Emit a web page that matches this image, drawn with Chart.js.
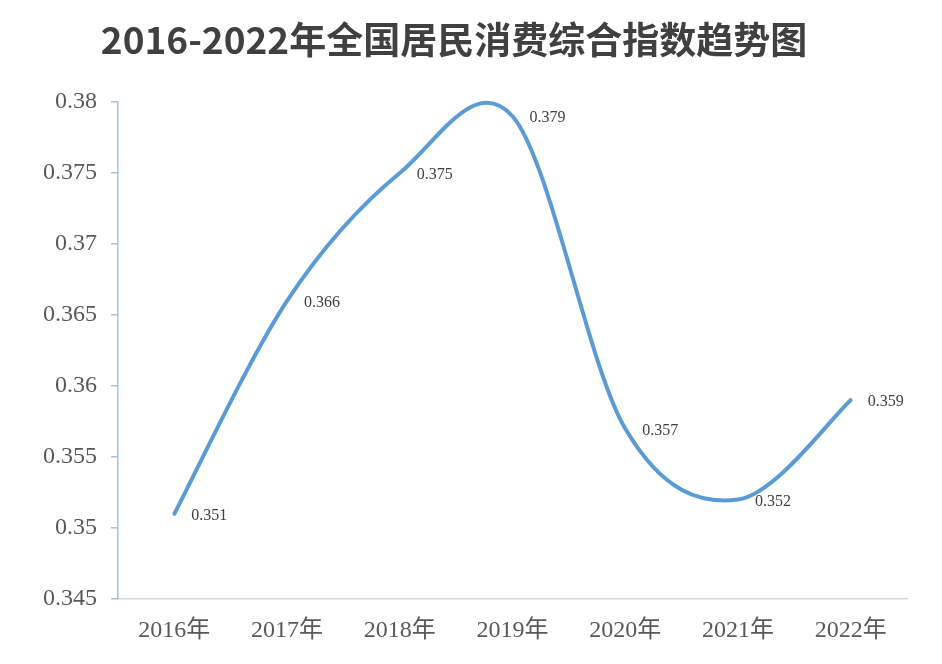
<!DOCTYPE html>
<html>
<head>
<meta charset="utf-8">
<script src="https://cdn.jsdelivr.net/npm/chart.js@4/dist/chart.umd.min.js"></script>
<style>
html,body{margin:0;padding:0;background:#fff;}
#wrap{width:942px;height:664px;position:relative;}
</style>
</head>
<body>
<div id="wrap"><canvas id="c" width="942" height="664"></canvas></div>
<script>
const titleText = '2016-2022年全国居民消费综合指数趋势图';
const categories = ['2016年','2017年','2018年','2019年','2020年','2021年','2022年'];
const indexValues = [0.351, 0.366, 0.375, 0.379, 0.357, 0.352, 0.359];
const dataLabels = ['0.351','0.366','0.375','0.379','0.357','0.352','0.359'];
const yTickValues = [0.345, 0.35, 0.355, 0.36, 0.365, 0.37, 0.375, 0.38];
const yTickLabels = ['0.345','0.35','0.355','0.36','0.365','0.37','0.375','0.38'];

const titlePlugin = {
  id: 'customTitle',
  afterDraw(chart) {
    const ctx = chart.ctx;
    ctx.save();
    ctx.font = 'bold 37px "Noto Sans CJK SC", "Noto Sans", sans-serif';
    ctx.fillStyle = '#404040';
    ctx.textAlign = 'center';
    ctx.textBaseline = 'middle';
    ctx.fillText(titleText, 454, 40);
    ctx.restore();
  }
};

// Office-style smoothing: uniform Catmull-Rom control points on the library's own point elements
const smoothPlugin = {
  id: 'officeSmooth',
  beforeDatasetDraw(chart, args) {
    const meta = args.meta;
    const pts = meta.data;
    const n = pts.length;
    for (let i = 0; i < n; i++) {
      const p = pts[i];
      const prev = pts[Math.max(i - 1, 0)];
      const next = pts[Math.min(i + 1, n - 1)];
      const dx = (next.x - prev.x) / 6;
      const dy = (next.y - prev.y) / 6;
      p.cp1x = p.x - dx; p.cp1y = p.y - dy;
      p.cp2x = p.x + dx; p.cp2y = p.y + dy;
    }
    if (meta.dataset) meta.dataset._pointsUpdated = true;
  }
};

const labelPlugin = {
  id: 'pointLabels',
  afterDatasetsDraw(chart) {
    const ctx = chart.ctx;
    const meta = chart.getDatasetMeta(0);
    ctx.save();
    ctx.font = '16px "Liberation Serif", "Times New Roman", serif';
    ctx.fillStyle = '#404040';
    ctx.textAlign = 'left';
    ctx.textBaseline = 'middle';
    meta.data.forEach((el, i) => {
      ctx.fillText(dataLabels[i], el.x + 17, el.y + 2);
    });
    ctx.restore();
  }
};

new Chart(document.getElementById('c'), {
  type: 'line',
  data: {
    labels: categories,
    datasets: [{
      data: indexValues,
      borderColor: '#5B9BD5',
      borderWidth: 4,
      tension: 0.4,
      pointRadius: 0,
      fill: false,
      borderCapStyle: 'round',
      borderJoinStyle: 'round'
    }]
  },
  options: {
    responsive: false,
    animation: false,
    clip: false,
    layout: { padding: { top: 102, right: 35, left: 0, bottom: 0 } },
    plugins: {
      legend: { display: false },
      title: { display: false },
      tooltip: { enabled: false }
    },
    scales: {
      x: {
        offset: true,
        grid: { display: true, drawOnChartArea: false, drawTicks: false },
        border: { color: '#D9D9D9', width: 1.5 },
        ticks: {
          font: { family: '"Liberation Serif", "Noto Sans CJK SC", serif', size: 24 },
          color: '#595959',
          padding: 17,
          maxRotation: 0
        },
        afterFit(s) { s.height = 65; }
      },
      y: {
        min: 0.345,
        max: 0.38,
        afterBuildTicks(s) { s.ticks = yTickValues.map(v => ({ value: v })); },
        grid: { display: true, drawOnChartArea: false, tickLength: 7, color: '#9DC3E6', lineWidth: 1.5 },
        border: { color: '#9DC3E6', width: 1.5 },
        ticks: {
          font: { family: '"Liberation Serif", "Times New Roman", serif', size: 24 },
          color: '#595959',
          padding: 14,
          callback(v, i) { return yTickLabels[i]; }
        },
        afterFit(s) { s.width = 118; }
      }
    }
  },
  plugins: [titlePlugin, smoothPlugin, labelPlugin]
});
</script>
</body>
</html>
